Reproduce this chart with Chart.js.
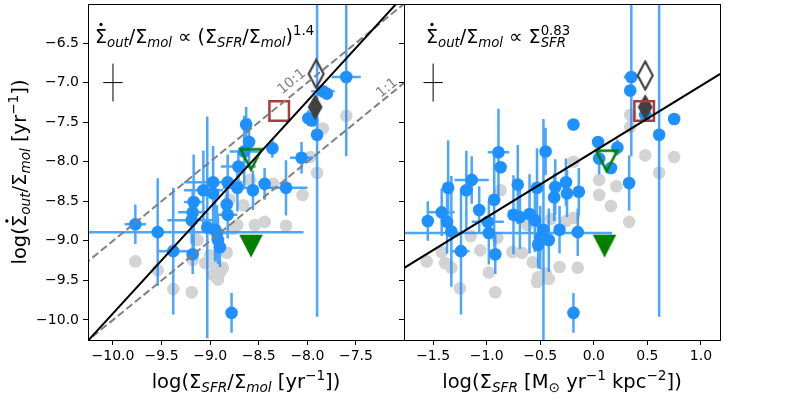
<!DOCTYPE html>
<html>
<head>
<meta charset="utf-8">
<title>outflow rate vs star formation</title>
<script src="https://cdn.jsdelivr.net/npm/chart.js@4.4.1/dist/chart.umd.min.js"></script>
<style>
  html, body { margin: 0; padding: 0; background: #fff; }
  #wrap { position: relative; width: 800px; height: 400px; overflow: hidden; }
  #left { position: absolute; left: 0; top: 0; width: 410px; height: 400px; }
  #right { position: absolute; left: 394px; top: 0; width: 406px; height: 400px; }
</style>
</head>
<body>
<div id="wrap">
  <canvas id="left" width="410" height="400"></canvas>
  <canvas id="right" width="406" height="400"></canvas>
</div>
<script>
// ---- data ----
const yTicks = [-10.0, -9.5, -9.0, -8.5, -8.0, -7.5, -7.0, -6.5];
const leftXTicks = [-10.0, -9.5, -9.0, -8.5, -8.0, -7.5];
const rightXTicks = [-1.5, -1.0, -0.5, 0.0, 0.5, 1.0];

// left panel: log(SFR/mol) vs log(out/mol)
const leftBlueX = [-7.60, -7.84, -7.80, -7.99, -7.95, -7.90, -8.63, -8.60, -8.65, -8.36,
  -8.71, -8.06, -8.22, -8.44, -8.56, -8.82, -8.97, -9.07, -8.97, -8.72,
  -9.17, -9.18, -9.19, -8.82, -9.03, -8.95, -8.93, -8.92, -8.90, -9.38,
  -9.18, -8.78, -9.77, -9.54, -8.83];
const leftBlueY = [-6.93, -7.11, -7.14, -7.45, -7.48, -7.66, -7.53, -7.75, -7.87, -7.83,
  -8.06, -7.95, -8.33, -8.28, -8.36, -8.26, -8.26, -8.36, -8.40, -8.33,
  -8.51, -8.64, -8.74, -8.67, -8.83, -8.86, -8.90, -8.99, -9.08, -9.13,
  -9.17, -9.91, -8.79, -8.89, -8.54];
const leftBlueXErr = [0.15, 0.12, 0, 0.06, 0, 0, 0, 0, 0.15, 0,
  0.18, 0.12, 0.22, 0, 0, 0.1, 0.3, 0.2, 0, 0.15,
  0.1, 0.15, 0.25, 0.1, 0, 0, 0.1, 0, 0, 0.15,
  0, 0, 0.11, 1.5, 0];
const leftBlueYErr = [1.0, 0, 0, 0.1, 0, 2.3, 0.22, 0.3, 0.45, 0.12,
  0.2, 0.2, 0.35, 0.2, 0.25, 0.35, 0.45, 0.5, 0.6, 0.3,
  0.6, 0.3, 0.3, 0.3, 1.4, 0.4, 0.35, 0.3, 0.25, 0.8,
  0.25, 0.25, 0.25, 0.68, 0.2];
const leftGreyX = [-7.60, -7.84, -7.90, -7.97, -8.05, -8.35, -8.22, -8.44, -8.54, -8.66,
  -8.72, -8.59, -8.83, -8.87, -8.92, -8.97, -9.05, -8.95, -9.19, -9.38,
  -9.54, -9.77, -9.18, -9.13, -8.80, -9.00, -8.90, -8.76];
const leftGreyY = [-7.42, -7.58, -8.14, -7.94, -8.42, -8.28, -8.81, -8.76, -8.80, -8.55,
  -8.80, -8.23, -9.15, -9.34, -9.49, -9.43, -9.28, -9.33, -9.65, -9.61,
  -9.37, -9.26, -9.24, -8.99, -8.48, -9.18, -9.40, -8.85];

// right panel: log(SFR) vs log(out/mol)
const rightBlueX = [0.35, 0.34, 0.48, 0.75, 0.61, -0.19, 0.04, 0.22, 0.05, 0.16,
  0.33, -0.89, -0.87, -0.45, -1.14, -1.36, -1.19, -0.71, -0.53, -0.36,
  -0.26, -0.14, -0.93, -1.07, -1.42, -1.55, -1.37, -1.33, -0.99, -0.98,
  -1.24, -0.92, -0.75, -0.69, -0.60, -0.55, -0.37, -0.25, -0.47, -0.50,
  -0.42, -0.52, -0.32, -0.15, -0.19];
const rightBlueY = [-6.93, -7.10, -7.41, -7.46, -7.66, -7.53, -7.75, -7.82, -7.96, -8.08,
  -8.27, -7.88, -8.07, -7.87, -8.23, -8.33, -8.36, -8.29, -8.33, -8.32,
  -8.26, -8.38, -8.48, -8.61, -8.64, -8.75, -8.76, -8.88, -8.76, -8.90,
  -9.13, -9.17, -8.67, -8.70, -8.66, -8.74, -8.45, -8.40, -8.86, -8.96,
  -8.99, -9.05, -8.86, -8.89, -9.91];
const rightBlueXErr = [0.07, 0, 0, 0, 0, 0, 0, 0, 0, 0,
  0, 0.1, 0, 0, 0.16, 0, 0, 0, 0, 0,
  0, 0, 0, 0, 0.12, 0, 0, 0, 0.15, 1.15,
  0.08, 0, 0, 0, 0, 0, 0, 0, 0, 0,
  0, 0, 0, 0, 0];
const rightBlueYErr = [1.0, 0, 0, 0, 2.3, 0, 0, 0.1, 0.2, 0,
  0.35, 0.55, 0, 0.3, 0.3, 0.6, 0.5, 0.5, 0.5, 0.35,
  0.3, 0.3, 0.6, 0.3, 0.3, 0.25, 0.4, 0.7, 0, 0.4,
  0.8, 0.25, 0.5, 0.4, 0.5, 0.4, 0.3, 0.3, 1.4, 0.4,
  0.4, 0.3, 0.3, 0.3, 0.25];
const rightGreyX = [0.34, 0.34, 0.48, 0.75, 0.61, -0.19, 0.05, 0.21, 0.05, 0.16,
  0.33, -0.19, -0.26, -0.32, -0.15, -0.52, -0.45, -0.42, -0.53, -0.57,
  -0.67, -0.76, -0.90, -0.92, -0.98, -1.06, -1.25, -1.33, -1.39, -1.56,
  -1.42, -1.15, -0.87, -0.40, -0.62];
const rightGreyY = [-7.41, -7.56, -7.92, -7.94, -8.14, -8.00, -8.23, -8.31, -8.42, -8.56,
  -8.76, -8.71, -8.75, -9.33, -9.34, -9.46, -9.41, -9.48, -9.52, -9.27,
  -9.15, -9.14, -8.96, -9.65, -9.40, -9.12, -9.60, -9.34, -9.28, -9.26,
  -9.14, -8.94, -8.36, -8.72, -8.80];

// special objects: open diamond, filled diamond, square, open triangle, filled triangle
const leftMarkerX = [-7.91, -7.92, -8.29, -8.58, -8.58];
const leftMarkerY = [-6.89, -7.31, -7.36, -7.98, -9.07];
const rightMarkerX = [0.48, 0.48, 0.47, 0.12, 0.10];
const rightMarkerY = [-6.91, -7.31, -7.36, -8.00, -9.07];

// typical uncertainty crosses
const leftCrossX = [-10.0], leftCrossY = [-7.0], leftCrossXErr = [0.1], leftCrossYErr = [0.24];
const rightCrossX = [-1.5], rightCrossY = [-7.0], rightCrossXErr = [0.09], rightCrossYErr = [0.24];

// fitted relations and ratio lines (end points)
const leftFitX = [-10.30, -7.00], leftFitY = [-10.32, -5.89];
const rightFitX = [-1.78, 1.18], rightFitY = [-9.35, -6.89];
const ratioX = [-10.30, -7.00];
const ratio10Y = [-9.30, -6.00];
const ratio1Y = [-10.30, -7.00];
const ratioLabels = ['10:1', '1:1'];
const ratioLabelX = [-8.16, -7.18];
const ratioLabelY = [-6.99, -7.07];

const Y_MIN = -10.253, Y_MAX = -6.007;

// ---- styling ----
const FONT = 'DejaVu Sans';
const BLUE = '#1e90ff';
const BAR = 'rgba(30,144,255,0.8)';
const GREY = '#d3d3d3';
const DARK = '#404040';
const GREEN = '#008000';
const BROWN = '#a83c3c';

Chart.defaults.font.family = FONT;
Chart.defaults.color = '#000';

const fmt = v => (v < 0 ? '\u2212' : '') + Math.abs(v).toFixed(1);
const series = (xs, ys) => xs.map((x, i) => ({ x: x, y: ys[i] }));

function errorSegments(xs, ys, xe, ye) {
  const pts = [];
  xs.forEach((x, i) => {
    if (ye[i]) pts.push({ x: x, y: ys[i] - ye[i] }, { x: x, y: ys[i] + ye[i] }, { x: x, y: null });
    if (xe[i]) pts.push({ x: x - xe[i], y: ys[i] }, { x: x + xe[i], y: ys[i] }, { x: x, y: null });
  });
  return pts;
}

function markerCanvas(w, h, draw) {
  const c = document.createElement('canvas');
  c.width = w; c.height = h;
  draw(c.getContext('2d'), w, h);
  return c;
}
function diamondPath(g, w, h) {
  g.beginPath();
  g.moveTo(w / 2, 1.5); g.lineTo(w - 1.5, h / 2); g.lineTo(w / 2, h - 1.5); g.lineTo(1.5, h / 2);
  g.closePath();
}
function triPath(g, w, h) {
  g.beginPath();
  g.moveTo(2.5, 2.5); g.lineTo(w - 2.5, 2.5); g.lineTo(w / 2, h - 4);
  g.closePath();
}
const diamondOpen = markerCanvas(18, 31, (g, w, h) => { diamondPath(g, w, h); g.lineWidth = 2.2; g.strokeStyle = DARK; g.stroke(); });
const diamondFull = markerCanvas(18, 29, (g, w, h) => { diamondPath(g, w, h); g.fillStyle = DARK; g.fill(); });
const triOpen = markerCanvas(26, 27, (g, w, h) => { triPath(g, w, h); g.lineWidth = 2.6; g.strokeStyle = GREEN; g.stroke(); });
const triFull = markerCanvas(26, 27, (g, w, h) => { triPath(g, w, h); g.fillStyle = GREEN; g.fill(); g.lineWidth = 1.5; g.strokeStyle = GREEN; g.stroke(); });

function pointSet(xs, ys, color, order) {
  return { data: series(xs, ys), backgroundColor: color, borderWidth: 0, pointRadius: 6.3, pointHoverRadius: 6.3, order: order };
}
function lineSet(data, color, width, dash, order) {
  return { data: data, showLine: true, borderColor: color, borderWidth: width, borderDash: dash,
    pointRadius: 0, pointHoverRadius: 0, fill: false, clip: 0, order: order };
}
function markerSet(xs, ys, order) {
  return { data: series(xs, ys), order: order,
    pointStyle: [diamondOpen, diamondFull, 'rect', triOpen, triFull],
    pointRadius: [10, 10, 13.8, 10, 10], pointHoverRadius: [10, 10, 13.8, 10, 10],
    backgroundColor: 'rgba(0,0,0,0)', borderColor: BROWN, borderWidth: [0, 0, 2.5, 0, 0] };
}

const tickMarks = { display: true, drawOnChartArea: false, drawTicks: true, tickLength: 5,
  tickColor: '#000', tickWidth: 1, color: '#000', lineWidth: 1 };

function makeOptions(xMin, xMax, xTicks, yLabels, padding) {
  return {
    responsive: false, animation: false, events: [],
    layout: { padding: padding, autoPadding: false },
    plugins: { legend: { display: false }, tooltip: { enabled: false } },
    scales: {
      x: { type: 'linear', min: xMin, max: xMax,
        afterBuildTicks: s => { s.ticks = xTicks.map(v => ({ value: v })); },
        afterFit: s => { s.height = 60; s.paddingLeft = 0; s.paddingRight = 0; },
        grid: tickMarks, border: { display: false },
        ticks: { color: '#000', font: { size: 14 }, padding: 3, maxRotation: 0, autoSkip: false, callback: v => fmt(v) } },
      y: { type: 'linear', min: Y_MIN, max: Y_MAX,
        afterBuildTicks: s => { s.ticks = yTicks.map(v => ({ value: v })); },
        afterFit: s => { s.width = yLabels ? 88 : 10; s.paddingTop = 0; s.paddingBottom = 0; },
        grid: tickMarks, border: { display: false },
        ticks: { display: yLabels, color: '#000', font: { size: 14 }, padding: 4, autoSkip: false, callback: v => fmt(v) } }
    }
  };
}

// ---- text with sub/superscripts (dot: time derivative mark over the glyph) ----
const yTitle = [{ t: 'log(' }, { t: '\u03a3', dot: true }, { sub: 'out', it: true }, { t: '/\u03a3' }, { sub: 'mol', it: true }, { t: ' [yr' }, { sup: '\u22121' }, { t: '])' }];
const leftXTitle = [{ t: 'log(\u03a3' }, { sub: 'SFR', it: true }, { t: '/\u03a3' }, { sub: 'mol', it: true }, { t: ' [yr' }, { sup: '\u22121' }, { t: '])' }];
const rightXTitle = [{ t: 'log(\u03a3' }, { sub: 'SFR', it: true }, { t: ' [M' }, { sub: '\u2299' }, { t: ' yr' }, { sup: '\u22121' }, { t: ' kpc' }, { sup: '\u22122' }, { t: '])' }];
const leftNote = [{ t: '\u03a3', dot: true }, { sub: 'out', it: true }, { t: '/\u03a3' }, { sub: 'mol', it: true }, { t: ' \u221d (\u03a3' }, { sub: 'SFR', it: true }, { t: '/\u03a3' }, { sub: 'mol', it: true }, { t: ')' }, { sup: '1.4' }];
const rightNote = [{ t: '\u03a3', dot: true }, { sub: 'out', it: true }, { t: '/\u03a3' }, { sub: 'mol', it: true }, { t: ' \u221d \u03a3' }, { sub: 'SFR', it: true, sup: '0.83' }];

function drawRich(ctx, parts, x, y, size, align) {
  const small = size * 0.7;
  const font = (s, it) => (it ? 'italic ' : '') + s + 'px "' + FONT + '"';
  const widths = parts.map(p => {
    let w = 0;
    if (p.t) { ctx.font = font(size); w = ctx.measureText(p.t).width; }
    if (p.sub) { ctx.font = font(small, p.it); w = Math.max(w, ctx.measureText(p.sub).width); }
    if (p.sup) { ctx.font = font(small); w = Math.max(w, ctx.measureText(p.sup).width); }
    return w;
  });
  const total = widths.reduce((s, w) => s + w, 0);
  let cx = align === 'center' ? x - total / 2 : x;
  ctx.textAlign = 'left';
  ctx.textBaseline = 'alphabetic';
  ctx.fillStyle = '#000';
  parts.forEach((p, i) => {
    if (p.t) {
      ctx.font = font(size);
      ctx.fillText(p.t, cx, y);
      if (p.dot) {
        ctx.beginPath();
        ctx.arc(cx + widths[i] / 2, y - size * 0.98, size * 0.085, 0, Math.PI * 2);
        ctx.fill();
      }
    }
    if (p.sub) { ctx.font = font(small, p.it); ctx.fillText(p.sub, cx, y + size * 0.22); }
    if (p.sup) { ctx.font = font(small); ctx.fillText(p.sup, cx, y - size * 0.42); }
    cx += widths[i];
  });
}

function drawFrame(ctx, a) {
  ctx.save();
  ctx.strokeStyle = '#000';
  ctx.lineWidth = 1;
  ctx.strokeRect(Math.round(a.left) + 0.5, Math.round(a.top) + 0.5, Math.round(a.right - a.left), Math.round(a.bottom - a.top));
  ctx.restore();
}

const leftText = {
  id: 'leftText',
  afterDraw(chart) {
    const ctx = chart.ctx, a = chart.chartArea;
    const xs = chart.scales.x, ys = chart.scales.y;
    drawFrame(ctx, a);
    ctx.save();
    drawRich(ctx, leftXTitle, (a.left + a.right) / 2, 388, 19.5, 'center');
    drawRich(ctx, leftNote, a.left + 7, 43, 19, 'left');
    ctx.translate(26, (a.top + a.bottom) / 2);
    ctx.rotate(-Math.PI / 2);
    drawRich(ctx, yTitle, 0, 0, 19.5, 'center');
    ctx.restore();
    const ang = Math.atan2(ys.getPixelForValue(-9) - ys.getPixelForValue(-8), xs.getPixelForValue(-8) - xs.getPixelForValue(-9));
    ratioLabels.forEach((txt, i) => {
      ctx.save();
      ctx.translate(xs.getPixelForValue(ratioLabelX[i]), ys.getPixelForValue(ratioLabelY[i]));
      ctx.rotate(-ang);
      ctx.font = '14px "' + FONT + '"';
      ctx.fillStyle = 'gray';
      ctx.textAlign = 'center';
      ctx.textBaseline = 'middle';
      ctx.fillText(txt, 0, 0);
      ctx.restore();
    });
  }
};

const rightText = {
  id: 'rightText',
  afterDraw(chart) {
    const ctx = chart.ctx, a = chart.chartArea;
    drawFrame(ctx, a);
    ctx.save();
    drawRich(ctx, rightXTitle, (a.left + a.right) / 2, 388, 19.5, 'center');
    drawRich(ctx, rightNote, a.left + 22, 43, 19, 'left');
    ctx.restore();
  }
};

new Chart(document.getElementById('left'), {
  type: 'scatter',
  data: { datasets: [
    lineSet(series(leftFitX, leftFitY), '#000', 2, [], 0),
    lineSet(series(ratioX, ratio10Y), 'gray', 2, [7.5, 3.5], 1),
    lineSet(series(ratioX, ratio1Y), 'gray', 2, [7.5, 3.5], 1),
    lineSet(errorSegments(leftCrossX, leftCrossY, leftCrossXErr, leftCrossYErr), '#000', 1, [], 0),
    markerSet(leftMarkerX, leftMarkerY, 2),
    pointSet(leftBlueX, leftBlueY, BLUE, 3),
    lineSet(errorSegments(leftBlueX, leftBlueY, leftBlueXErr, leftBlueYErr), BAR, 2.5, [], 4),
    pointSet(leftGreyX, leftGreyY, GREY, 5)
  ] },
  options: makeOptions(-10.257, -7.006, leftXTicks, true, { top: 4, right: 6, left: 0, bottom: 0 }),
  plugins: [leftText]
});

new Chart(document.getElementById('right'), {
  type: 'scatter',
  data: { datasets: [
    lineSet(series(rightFitX, rightFitY), '#000', 2, [], 0),
    lineSet(errorSegments(rightCrossX, rightCrossY, rightCrossXErr, rightCrossYErr), '#000', 1, [], 0),
    markerSet(rightMarkerX, rightMarkerY, 2),
    pointSet(rightBlueX, rightBlueY, BLUE, 3),
    lineSet(errorSegments(rightBlueX, rightBlueY, rightBlueXErr, rightBlueYErr), BAR, 2.5, [], 4),
    pointSet(rightGreyX, rightGreyY, GREY, 5)
  ] },
  options: makeOptions(-1.772, 1.178, rightXTicks, false, { top: 4, right: 80, left: 0, bottom: 0 }),
  plugins: [rightText]
});
</script>
</body>
</html>
